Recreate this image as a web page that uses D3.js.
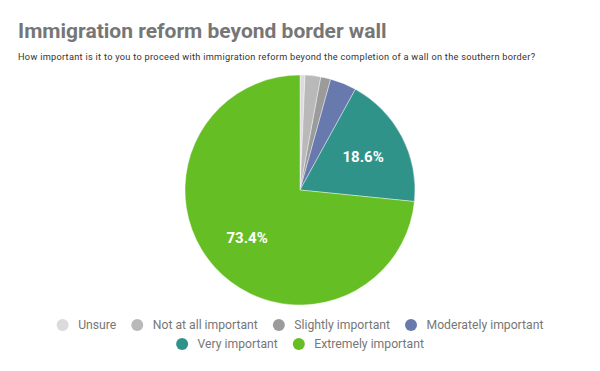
<!DOCTYPE html>
<html><head><meta charset="utf-8">
<script src="https://cdnjs.cloudflare.com/ajax/libs/d3/7.8.5/d3.min.js"></script>
<style>body{margin:0;background:#fff;}svg{display:block;font-family:Roboto,"Noto Sans",sans-serif;}</style>
</head><body>
<svg id="c" width="600" height="371"></svg>
<script>
const categories = ["Unsure","Not at all important","Slightly important","Moderately important","Very important","Extremely important"];
const values = [0.7, 2.2, 1.4, 3.7, 18.6, 73.4];
const colors = ["#dbdbdb","#b9b9b9","#9b9b9b","#6879ad","#30938a","#65be23"];
const shownLabels = ["Very important","Extremely important"];

const svg = d3.select("#c");
svg.append("text").attr("x",18).attr("y",38).attr("font-size",21).attr("font-weight",700)
  .attr("fill","#767676").text("Immigration reform beyond border wall");
svg.append("text").attr("x",18).attr("y",60).attr("font-size",9.2).attr("fill","#333")
  .attr("textLength",517).attr("lengthAdjust","spacing")
  .text("How important is it to you to proceed with immigration reform beyond the completion of a wall on the southern border?");

const data = categories.map((c,i)=>({cat:c,value:values[i],color:colors[i]}));
const pie = d3.pie().value(d=>d.value).sort(null);
const arcs = pie(data);
const R = 115, cx = 300, cy = 190;
const arc = d3.arc().innerRadius(0).outerRadius(R);
const g = svg.append("g").attr("transform",`translate(${cx},${cy})`);
g.selectAll("path").data(arcs).join("path").attr("d",arc).attr("fill",d=>d.data.color)
  .attr("stroke","#fff").attr("stroke-width",0.4);
const labelArc = d3.arc().innerRadius(R*0.62).outerRadius(R*0.62);
g.selectAll("text.lbl").data(arcs.filter(d=>shownLabels.includes(d.data.cat))).join("text")
  .attr("class","lbl")
  .attr("transform",d=>{const c=labelArc.centroid(d);return `translate(${c[0]},${c[1]})`;})
  .attr("text-anchor","middle").attr("dy","0.36em").attr("font-size",15).attr("font-weight",700)
  .attr("fill","#fff").text(d=>d.data.value.toFixed(1)+"%");

// legend
const rows = [[0,1,2,3],[4,5]];
const rowY = [325, 344];
const lg = svg.append("g");
rows.forEach((row,ri)=>{
  const items = row.map(i=>{
    const t = lg.append("text").attr("font-size",12.2).attr("fill","#777").text(categories[i]);
    return {i,t,w:t.node().getComputedTextLength()};
  });
  const r=6, gap1=9.5, gap2=15;
  const total = items.reduce((s,it)=>s+2*r+gap1+it.w,0)+gap2*(items.length-1);
  let x = cx - total/2;
  items.forEach(it=>{
    lg.append("circle").attr("cx",x+r).attr("cy",rowY[ri]).attr("r",r).attr("fill",colors[it.i]);
    it.t.attr("x",x+2*r+gap1).attr("y",rowY[ri]).attr("dy","0.35em");
    x += 2*r+gap1+it.w+gap2;
  });
});
</script>
</body></html>
